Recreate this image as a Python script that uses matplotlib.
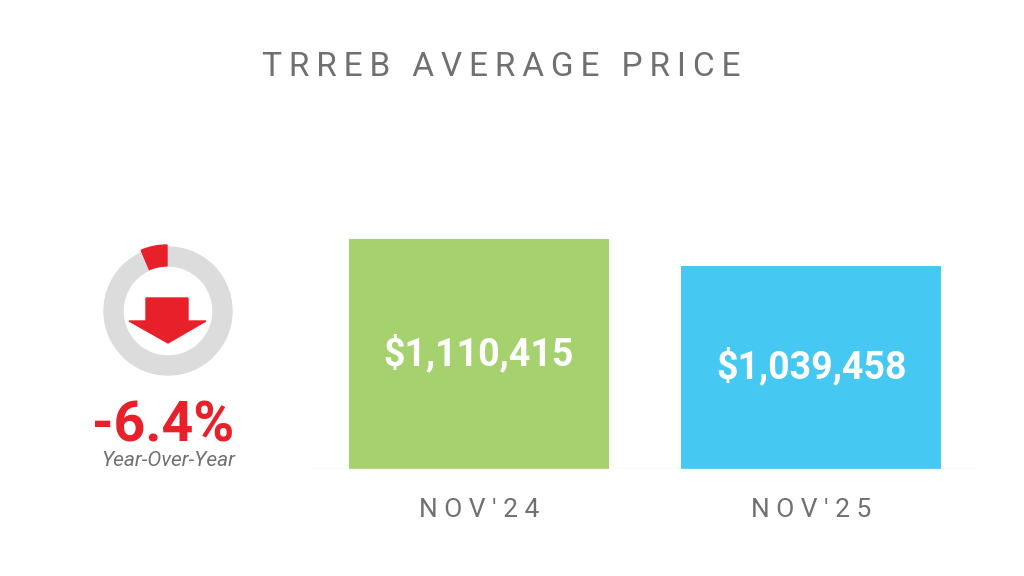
import numpy as np
import matplotlib.pyplot as plt
from matplotlib.patches import Wedge, Polygon

plt.rcParams["font.family"] = ["Roboto", "DejaVu Sans"]

periods = ["NOV'24", "NOV'25"]
prices = [1110415, 1039458]
bar_colors = ["#a6d16f", "#45c8f2"]
yoy_change = -6.4

W, H = 1024, 576
fig = plt.figure(figsize=(W / 100, H / 100), dpi=100)


def spaced(s, gap="\u2009"):
    return gap.join(s)


fig.text(501 / W, 1 - 67 / H, spaced("TRREB AVERAGE PRICE"), ha="center", va="center",
         fontsize=24, color="#707070")

# bars
ax = fig.add_axes([310 / W, 1 - 469 / H, 670 / W, 469 / H])
x = np.arange(len(prices))
ax.bar(x, prices, width=0.782, color=bar_colors, bottom=0)
ax.set_xlim(-0.508, 1.507)
ax.set_ylim(506000, 1738567)
for xi, p in zip(x, prices):
    ax.text(xi, 506000 + (p - 506000) * 0.5, f"${p:,}", ha="center", va="center",
            color="white", fontsize=27, fontweight="bold")
ax.axis("off")
ax.axhline(506000, color="#eeeeee", lw=1)
for xi, lab in zip(x, periods):
    fig.text((479 + xi * 332.5) / W, 1 - 510 / H, spaced(lab, " "), ha="center",
             va="center", fontsize=19, color="#707070")

# donut
dax = fig.add_axes([0, 0, 1, 1])
dax.set_xlim(0, W)
dax.set_ylim(H, 0)
dax.axis("off")
cx, cy = 168, 311
dax.add_patch(Wedge((cx, cy), 64, 0, 360, width=19, color="#dcdcdc"))
span = abs(yoy_change) / 100 * 360
dax.add_patch(Wedge((cx - 1, cy), 66, -90 - span, -90, width=21, color="#e8202a"))
dax.add_patch(Polygon([(146, 298), (146, 321), (129, 321), (168, 343),
                       (206, 321), (188, 321), (188, 298)], color="#e8202a"))
dax.text(163, 426, f"{yoy_change:.1f}%", ha="center", va="center", fontsize=40,
         fontweight="bold", color="#e8202a")
dax.text(168, 461, "Year-Over-Year", ha="center", va="center", fontsize=15,
         style="italic", color="#707070")

fig.savefig("out.png", dpi=100)
